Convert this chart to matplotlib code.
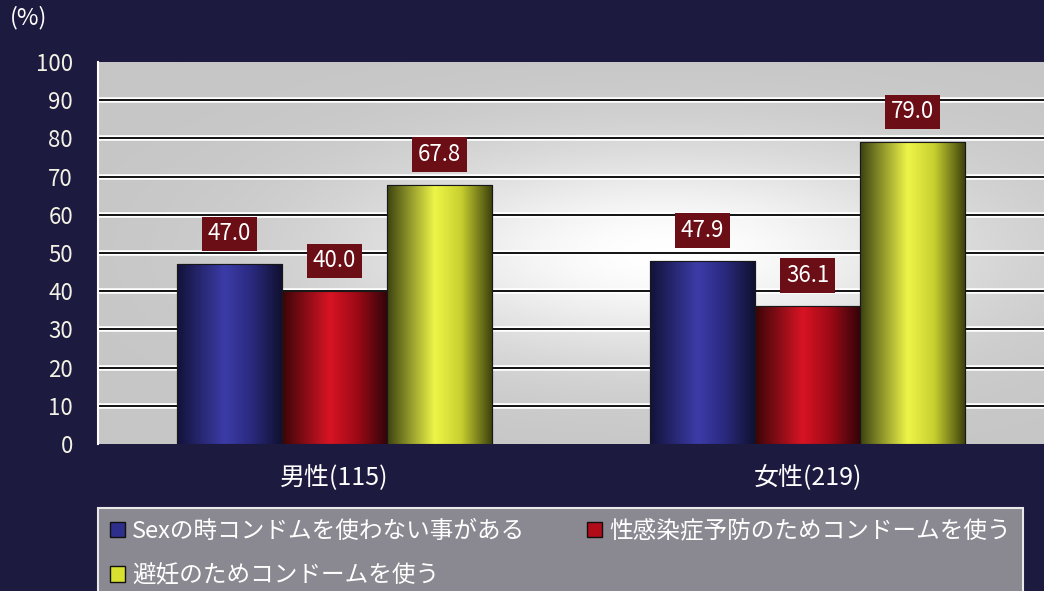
import numpy as np
import matplotlib
matplotlib.use("Agg")
import matplotlib.pyplot as plt
from matplotlib.colors import LinearSegmentedColormap
import matplotlib.patheffects as pe

plt.rcParams['font.family'] = ['Noto Sans CJK JP', 'DejaVu Sans']

categories = ["男性(115)", "女性(219)"]
series_names = ["Sexの時コンドムを使わない事がある",
                "性感染症予防のためコンドームを使う",
                "避妊のためコンドームを使う"]
values = [
    [47.0, 47.9],
    [40.0, 36.1],
    [67.8, 79.0],
]
yticks = [0, 10, 20, 30, 40, 50, 60, 70, 80, 90, 100]

base_colors = ["#2e2e8c", "#b00c1a", "#d8e030"]
grad_stops = [
    ["#12123a", "#3c3ca8", "#2a2a80", "#10102e"],
    ["#3a0508", "#d81424", "#a00a16", "#30040a"],
    ["#3c4210", "#eef548", "#c8d030", "#3a3e0c"],
]

BG = "#1d1a40"
fig = plt.figure(figsize=(10.44, 5.91), dpi=100, facecolor=BG)
W, H = 1044, 591
ax = fig.add_axes([98 / W, 1 - 444 / H, 946 / W, 382 / H])
ax.set_facecolor("#cfcfcf")

# background gradient (gray edges, whitish centre)
gx = np.linspace(0, 1, 300)
gy = np.linspace(0, 1, 200)
X, Y = np.meshgrid(gx, gy)
field = np.exp(-((X - 0.6) / 0.32) ** 2 - ((Y - 0.5) / 0.28) ** 2)
bg_cmap = LinearSegmentedColormap.from_list("bg", ["#c6c6c6", "#ffffff"])
ax.imshow(field, extent=[0, 2, 0, 100], origin="lower", aspect="auto",
          cmap=bg_cmap, vmin=0, vmax=1, zorder=0)

for t in yticks[1:-1]:
    ax.axhline(t, color="#111111", lw=1.4, zorder=1,
               path_effects=[pe.withStroke(linewidth=4, foreground="white")])

n = len(series_names)
bw = 0.222
x = np.arange(len(categories)) + 0.5
for i, (name, vals) in enumerate(zip(series_names, values)):
    offs = (i - (n - 1) / 2) * bw
    bars = ax.bar(x + offs, vals, width=bw, color=base_colors[i],
                  edgecolor="#181818", linewidth=0.8, zorder=2, label=name)
    cmap = LinearSegmentedColormap.from_list(
        "g%d" % i, list(zip([0.0, 0.45, 0.7, 1.0], grad_stops[i])))
    prof = np.linspace(0, 1, 256)[None, :]
    for b in bars:
        x0, y0 = b.get_xy()
        im = ax.imshow(prof, extent=[x0, x0 + b.get_width(), y0, y0 + b.get_height()],
                       aspect="auto", cmap=cmap, vmin=0, vmax=1, zorder=2.5)
        im.set_clip_path(b)
        ax.add_patch(plt.Rectangle((x0, y0), b.get_width(), b.get_height(),
                                   fill=False, ec="#181818", lw=0.8, zorder=3))
        ax.annotate(f"{b.get_height():.1f}",
                    (x0 + b.get_width() / 2, y0 + b.get_height()),
                    xytext=(0, 22), textcoords="offset points",
                    ha="center", va="center", color="white", fontsize=16,
                    bbox=dict(boxstyle="square,pad=0.25", fc="#6b0e16", ec="none"),
                    zorder=4)

ax.set_xlim(0, 2)
ax.set_ylim(0, 100)
ax.set_yticks(yticks)
ax.set_yticklabels([str(t) for t in yticks], color="#f2f2e4", fontsize=16)
ax.set_xticks(x)
ax.set_xticklabels(categories, color="white", fontsize=18)
ax.tick_params(axis="y", length=0, pad=18)
ax.tick_params(axis="x", length=0, pad=15)
for s in ax.spines.values():
    s.set_visible(False)
ax.spines["left"].set_visible(True)
ax.spines["left"].set_color("white")
ax.spines["left"].set_linewidth(1.5)

fig.text(10 / W, 1 - 18 / H, "(%)", color="white", fontsize=17,
         ha="left", va="center")

handles = [plt.Rectangle((0, 0), 1, 1, fc=c, ec="#101010", lw=1.0) for c in base_colors]
order = [0, 2, 1]
leg = fig.legend([handles[k] for k in order], [series_names[k] for k in order],
                 ncol=2, loc="upper left",
                 bbox_to_anchor=(98 / W, 1 - 508 / H), borderaxespad=0,
                 frameon=True, fontsize=17,
                 handlelength=0.65, handleheight=0.65, handletextpad=0.3,
                 labelspacing=0.9, columnspacing=2.6, borderpad=0.5,
                 labelcolor="white", fancybox=False)
fr = leg.get_frame()
fr.set_facecolor("#8a8890")
fr.set_edgecolor("#e8e8e8")
fr.set_linewidth(1.5)
fr.set_alpha(1)

fig.savefig("out.png", dpi=100, facecolor=BG)
